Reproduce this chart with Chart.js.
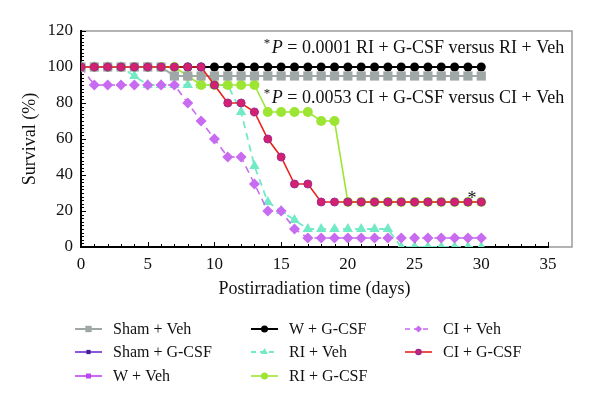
<!DOCTYPE html>
<html>
<head>
<meta charset="utf-8">
<script src="https://cdn.jsdelivr.net/npm/chart.js@4.4.1/dist/chart.umd.min.js"></script>
<style>
	html, body { margin: 0; padding: 0; background: #fff; }
</style>
</head>
<body>
<canvas id="chart_supervivencia" width="600" height="410"></canvas>
<script>

// dias post irradiacion
const days = [0,1,2,3,4,5,6,7,8,9,10,11,12,13,14,15,16,17,18,19,20,21,22,23,24,25,26,27,28,29,30];

const shamVeh  = [100,100,100,100,100,100,100,95,95,95,95,95,95,95,95,95,95,95,95,95,95,95,95,95,95,95,95,95,95,95,95];
const shamGcsf = [100,100,100,100,100,100,100,100,100,100,100,100,100,100,100,100,100,100,100,100,100,100,100,100,100,100,100,100,100,100,100];
const wVeh     = [100,100,100,100,100,100,100,100,100,100,100,100,100,100,100,100,100,100,100,100,100,100,100,100,100,100,100,100,100,100,100];
const wGcsf    = [100,100,100,100,100,100,100,100,100,100,100,100,100,100,100,100,100,100,100,100,100,100,100,100,100,100,100,100,100,100,100];
const riVeh    = [100,100,100,100,95,90,90,90,90,90,90,90,75,45,25,20,15,10,10,10,10,10,10,10,0,0,0,0,0,0,0];
const riGcsf   = [100,100,100,100,100,100,100,100,95,90,90,90,90,90,75,75,75,75,70,70,25,25,25,25,25,25,25,25,25,25,25];
const ciVeh    = [100,90,90,90,90,90,90,90,80,70,60,50,50,35,20,20,10,5,5,5,5,5,5,5,5,5,5,5,5,5,5];
const ciGcsf   = [100,100,100,100,100,100,100,100,100,100,90,80,80,75,60,50,35,35,25,25,25,25,25,25,25,25,25,25,25,25,25];

const xTicks = [0, 35, 5];     // min, max, paso
const yTicks = [0, 120, 20];

const pText1 = ' = 0.0001 RI + G-CSF versus RI + Veh';
const pText2 = ' = 0.0053 CI + G-CSF versus CI + Veh';

const SERIF = '"Liberation Serif", "DejaVu Serif", serif';

let toXY = (vals) => days.map((d, i) => ({ x: d, y: vals[i] }));

// el primero se dibuja encima
let datasets = [
	{ label: 'CI + G-CSF', data: toXY(ciGcsf), borderColor: '#E8231E', borderWidth: 1.6,
	  pointStyle: 'circle', pointRadius: 4, pointBackgroundColor: '#D4206F', pointBorderColor: '#9C2A8E', pointBorderWidth: 1, lr: 2.5 },
	{ label: 'Sham + Veh', data: toXY(shamVeh), borderColor: '#9FA8A6', borderWidth: 2,
	  pointStyle: 'rect', pointRadius: 6.5, pointBackgroundColor: '#9FA8A6', pointBorderColor: '#9FA8A6', pointBorderWidth: 0, lr: 4.5 },
	{ label: 'RI + G-CSF', data: toXY(riGcsf), borderColor: '#9CE633', borderWidth: 1.6,
	  pointStyle: 'circle', pointRadius: 5, pointBackgroundColor: '#9CE633', pointBorderColor: '#9CE633', pointBorderWidth: 0, lr: 3.5 },
	{ label: 'CI + Veh', data: toXY(ciVeh), borderColor: '#C86BF0', borderWidth: 1.6, borderDash: [7, 5],
	  pointStyle: 'rectRot', pointRadius: 5.5, pointBackgroundColor: '#C86BF0', pointBorderColor: '#C86BF0', pointBorderWidth: 0, lr: 3.5 },
	{ label: 'RI + Veh', data: toXY(riVeh), borderColor: '#72EAC6', borderWidth: 1.8, borderDash: [7, 5],
	  pointStyle: 'triangle', pointRadius: 6, pointBackgroundColor: '#72EAC6', pointBorderColor: '#72EAC6', pointBorderWidth: 0, lr: 4 },
	{ label: 'W + G-CSF', data: toXY(wGcsf), borderColor: '#000000', borderWidth: 2,
	  pointStyle: 'circle', pointRadius: 4.5, pointBackgroundColor: '#000000', pointBorderColor: '#000000', pointBorderWidth: 0, lr: 3.5 },
	{ label: 'W + Veh', data: toXY(wVeh), borderColor: '#C044F0', borderWidth: 1.6,
	  pointStyle: 'rect', pointRadius: 3, pointBackgroundColor: '#C044F0', pointBorderColor: '#C044F0', pointBorderWidth: 0, lr: 3.5 },
	{ label: 'Sham + G-CSF', data: toXY(shamGcsf), borderColor: '#6B2DD8', borderWidth: 1.6,
	  pointStyle: 'rect', pointRadius: 2.5, pointBackgroundColor: '#4A1C9A', pointBorderColor: '#4A1C9A', pointBorderWidth: 0, lr: 3 }
];
datasets.forEach(ds => { ds.fill = false; ds.tension = 0; });

// columnas de la leyenda
const legendCols = [
	['Sham + Veh', 'Sham + G-CSF', 'W + Veh'],
	['W + G-CSF', 'RI + Veh', 'RI + G-CSF'],
	['CI + Veh', 'CI + G-CSF']
];

let marcoPlugin = {
	id: 'marco',
	beforeDraw(chart) {
		let a = chart.chartArea, ctx = chart.ctx;
		ctx.save();
		ctx.strokeStyle = '#9a9a9a';
		ctx.lineWidth = 1.5;
		ctx.strokeRect(a.left, a.top, a.right - a.left + 24, a.bottom - a.top);
		ctx.restore();
	},
	beforeDatasetsDraw(chart) {
		let ctx = chart.ctx, xs = chart.scales.x, ys = chart.scales.y;
		let a = chart.chartArea;
		ctx.save();
		ctx.strokeStyle = '#000';
		ctx.lineWidth = 1;
		ctx.beginPath();
		for (let v = yTicks[0]; v <= yTicks[1]; v += 2) {
			let py = Math.round(ys.getPixelForValue(v)) + 0.5;
			ctx.moveTo(a.left, py);
			ctx.lineTo(a.left + (v % 20 === 0 ? 5 : 3), py);
		}
		for (let v = xTicks[0]; v <= xTicks[1]; v += 1) {
			let px = Math.round(xs.getPixelForValue(v)) + 0.5;
			ctx.moveTo(px, a.bottom);
			ctx.lineTo(px, a.bottom - (v % 5 === 0 ? 5 : 3));
		}
		ctx.stroke();
		ctx.restore();
	},
	afterDatasetsDraw(chart) {
		let ctx = chart.ctx, xs = chart.scales.x, ys = chart.scales.y;
		ctx.save();
		ctx.fillStyle = '#111';
		ctx.textBaseline = 'alphabetic';
		ctx.textAlign = 'left';
		[[pText1, 108], [pText2, 80]].forEach(([txt, yv]) => {
			let x = xs.getPixelForValue(14.3);
			let y = ys.getPixelForValue(yv);
			ctx.font = '13px ' + SERIF;
			ctx.fillText('*', x - 8, y - 6);
			ctx.font = 'italic 18px ' + SERIF;
			ctx.fillText('P', x, y);
			let w = ctx.measureText('P').width;
			ctx.font = '18px ' + SERIF;
			ctx.fillText(txt, x + w, y);
		});
		// asterisco sobre CI + G-CSF
		ctx.font = '18px ' + SERIF;
		ctx.textAlign = 'center';
		ctx.fillText('*', xs.getPixelForValue(29.3), ys.getPixelForValue(24));
		ctx.restore();
	},
	afterDraw(chart) {
		let ctx = chart.ctx;
		let colX = [75, 251, 405];
		let rowY = [329, 352, 376];
		ctx.save();
		ctx.font = '16px ' + SERIF;
		ctx.textBaseline = 'middle';
		ctx.textAlign = 'left';
		legendCols.forEach((col, c) => {
			col.forEach((name, r) => {
				let ds = chart.data.datasets.find(d => d.label === name);
				let x0 = colX[c], y = rowY[r];
				ctx.strokeStyle = ds.borderColor;
				ctx.lineWidth = ds.borderWidth;
				ctx.setLineDash(ds.borderDash ? [5, 4] : []);
				ctx.beginPath();
				ctx.moveTo(x0, y);
				ctx.lineTo(x0 + 27, y);
				ctx.stroke();
				ctx.setLineDash([]);
				ctx.fillStyle = ds.pointBackgroundColor;
				ctx.strokeStyle = ds.pointBorderColor;
				Chart.helpers.drawPoint(ctx, {
					pointStyle: ds.pointStyle, radius: ds.lr, rotation: 0, borderWidth: ds.pointBorderWidth
				}, x0 + 13.5, y);
				ctx.fillStyle = '#111';
				ctx.fillText(name, x0 + 38, y + 1);
			});
		});
		ctx.restore();
	}
};

let ctx = document.getElementById('chart_supervivencia');
let myChart = new Chart(ctx, {
	type: 'line',
	data: { datasets: datasets },
	options: {
		responsive: false,
		animation: false,
		devicePixelRatio: 1,
		layout: { padding: { left: 0, top: 31, right: 52, bottom: 110 } },
		plugins: {
			legend: { display: false },
			tooltip: { enabled: false }
		},
		scales: {
			x: {
				type: 'linear',
				min: xTicks[0], max: xTicks[1],
				ticks: { stepSize: xTicks[2], padding: 7, color: '#111', font: { family: SERIF, size: 17 } },
				grid: { display: false, drawTicks: false },
				border: { display: true, color: '#000', width: 2 },
				title: { display: true, text: 'Postirradiation time (days)', color: '#111',
					font: { family: SERIF, size: 18 }, padding: { top: 0, bottom: 0 } },
				afterFit: (scale) => { scale.height = 53; }
			},
			y: {
				min: yTicks[0], max: yTicks[1],
				ticks: { stepSize: yTicks[2], padding: 8, color: '#111', font: { family: SERIF, size: 17 } },
				grid: { display: false, drawTicks: false },
				border: { display: true, color: '#000', width: 2 },
				title: { display: true, text: 'Survival (%)', color: '#111',
					font: { family: SERIF, size: 18 }, padding: { top: 19, bottom: 0 } },
				afterFit: (scale) => { scale.width = 81; }
			}
		}
	},
	plugins: [marcoPlugin]
});

</script>
</body>
</html>
